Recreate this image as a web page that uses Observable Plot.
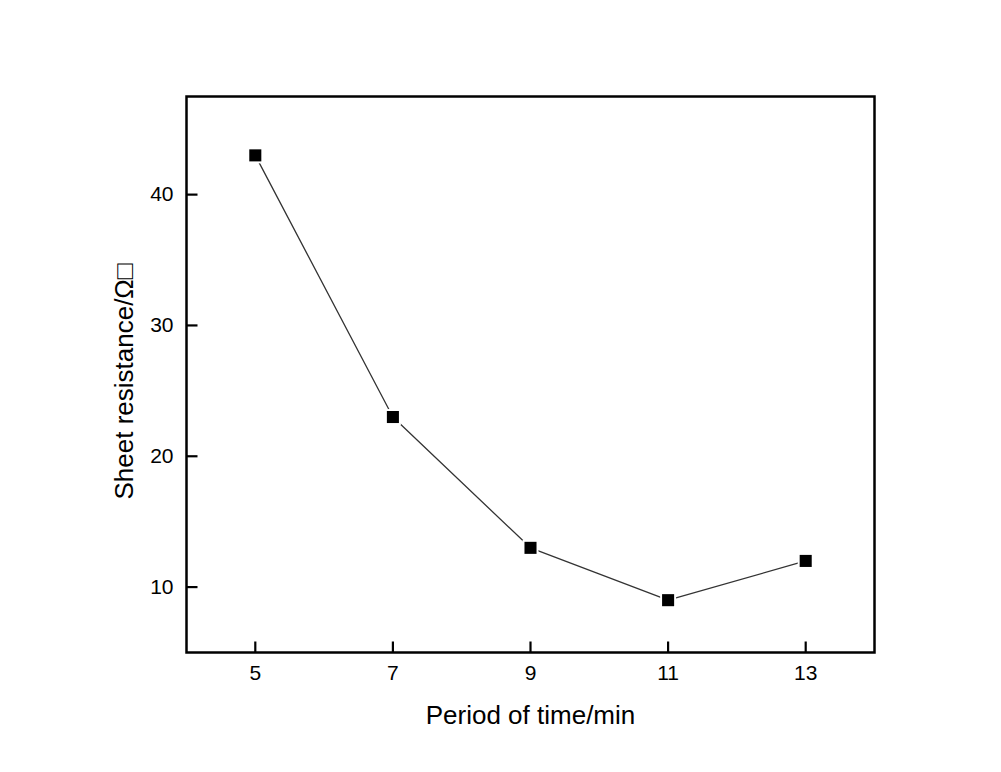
<!DOCTYPE html>
<html>
<head>
<meta charset="utf-8">
<script src="https://cdn.jsdelivr.net/npm/d3@7"></script>
<script src="https://cdn.jsdelivr.net/npm/@observablehq/plot@0.6"></script>
<style>
  html, body { margin: 0; padding: 0; background: #ffffff; }
  #chart svg { display: block; }
  #chart svg [aria-label$="tick label"] { font-size: 21px; }
</style>
</head>
<body>
<div id="chart"></div>
<script>
const times = [5, 7, 9, 11, 13];
const resistance = [43, 23, 13, 9, 12];
const xTicks = [5, 7, 9, 11, 13];
const yTicks = [10, 20, 30, 40];
const xLabel = "Period of time/min";
const yLabel = "Sheet resistance/Ω□";

const data = times.map((t, i) => ({t, r: resistance[i]}));
const xTickData = xTicks.map(v => ({v}));
const yTickData = yTicks.map(v => ({v}));

const font = "'Liberation Sans', Arial, sans-serif";
const W = 1001, H = 772;
const mTop = 96, mRight = 127, mBottom = 120, mLeft = 186;
const tickLen = 11;
const xDomain = [4, 14];
const yDomain = [5, 47.5];
const innerW = W - mLeft - mRight;
const innerH = H - mTop - mBottom;
const xTickUnits = tickLen * (xDomain[1] - xDomain[0]) / innerW;
const yTickUnits = tickLen * (yDomain[1] - yDomain[0]) / innerH;

const chart = Plot.plot({
  width: W,
  height: H,
  marginTop: mTop,
  marginRight: mRight,
  marginBottom: mBottom,
  marginLeft: mLeft,
  style: {fontFamily: font, background: "#ffffff", color: "#000"},
  x: {domain: xDomain},
  y: {domain: yDomain},
  marks: [
    Plot.frame({fill: "none", stroke: "#000", strokeWidth: 2.5}),
    Plot.axisX(xTicks, {tickSize: 0, tickPadding: 13, fontSize: 21, label: null, fill: "#000"}),
    Plot.axisY(yTicks, {tickSize: 0, tickPadding: 13, fontSize: 21, label: null, fill: "#000"}),
    Plot.line(data, {x: "t", y: "r", stroke: "#333", strokeWidth: 1.3}),
    Plot.dot(data, {x: "t", y: "r", symbol: "square", r: 9, fill: "#ffffff", stroke: "none"}),
    Plot.dot(data, {x: "t", y: "r", symbol: "square", r: 6.8, fill: "#000", stroke: "none"}),
    Plot.link(xTickData, {x1: "v", x2: "v", y1: () => yDomain[0], y2: () => yDomain[0] + yTickUnits, stroke: "#000", strokeWidth: 2.2}),
    Plot.link(yTickData, {y1: "v", y2: "v", x1: () => xDomain[0], x2: () => xDomain[0] + xTickUnits, stroke: "#000", strokeWidth: 2.2}),
    Plot.text([xLabel], {frameAnchor: "bottom", lineAnchor: "middle", textAnchor: "middle", dy: 63, fontSize: 26, fill: "#000"}),
    Plot.text([yLabel], {frameAnchor: "left", lineAnchor: "middle", textAnchor: "middle", dx: -62, dy: 7, rotate: -90, fontSize: 26, fill: "#000"})
  ]
});

document.getElementById("chart").appendChild(chart);
</script>
</body>
</html>
